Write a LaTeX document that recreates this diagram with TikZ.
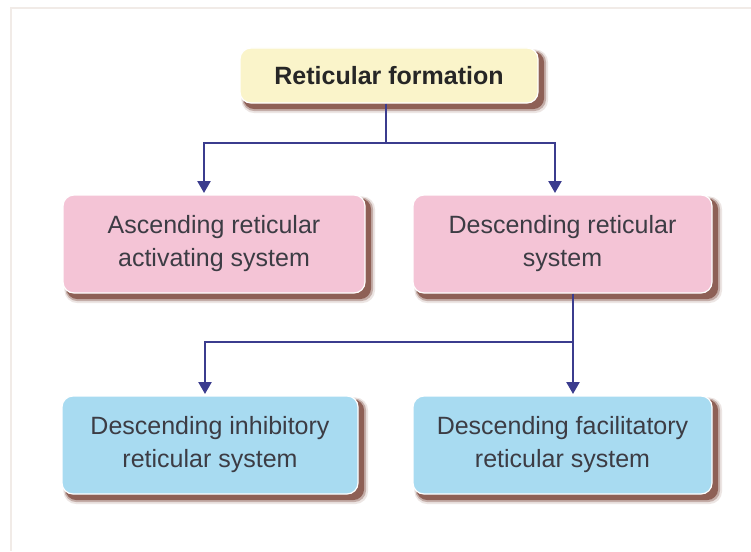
\documentclass[tikz,border=0pt]{standalone}
\usepackage{fontspec}
\setmainfont{Liberation Sans}
\usetikzlibrary{backgrounds,calc,arrows.meta}
\definecolor{yel}{HTML}{FAF4CA}
\definecolor{pnk}{HTML}{F4C4D6}
\definecolor{blu}{HTML}{A8DBF1}
\definecolor{navy}{HTML}{3B3C8E}
\definecolor{txt}{HTML}{3C3C44}
\definecolor{shc}{HTML}{6A2E20}
\definecolor{framec}{HTML}{F1EBE7}
\newcommand\boxshadow[1]{%
  \fill[shc, opacity=0.12, rounded corners=13pt] ($(#1.north west)+(2,2)$) rectangle ($(#1.south east)+(9.5,9.5)$);
  \fill[shc, opacity=0.3, rounded corners=12pt] ($(#1.north west)+(3,3)$) rectangle ($(#1.south east)+(7.5,7.5)$);
  \fill[shc, opacity=0.6, rounded corners=11pt] ($(#1.north west)+(4,4)$) rectangle ($(#1.south east)+(5.5,5.5)$);
}
\begin{document}
\begin{tikzpicture}[x=1pt,y=-1pt,
  box/.style={rounded corners=11pt, draw=white, line width=1.2pt, align=center,
    text=txt, font=\fontsize{25}{33}\selectfont, inner sep=0pt},
  conn/.style={draw=navy, line width=2.4pt},
  arr/.style={conn, -{Triangle[length=12pt,width=13pt]}}]
\useasboundingbox (0,0) rectangle (751,551);

\node[box, fill=yel, minimum width=298pt, minimum height=55pt,
  font=\fontsize{25}{33}\selectfont\bfseries, text=black!85] (rf) at (389,75.5) {Reticular formation};
\node[box, fill=pnk, minimum width=302pt, minimum height=98pt] (ars) at (214,244)
  {Ascending reticular\\activating system};
\node[box, fill=pnk, minimum width=299pt, minimum height=98pt] (drs) at (562.5,244)
  {Descending reticular\\system};
\node[box, fill=blu, minimum width=296pt, minimum height=98pt] (dir) at (210,445)
  {Descending inhibitory\\reticular system};
\node[box, fill=blu, minimum width=299pt, minimum height=98pt] (dfr) at (562.5,445)
  {Descending facilitatory\\reticular system};

\coordinate (j1) at (386,143);
\coordinate (t1) at (204,193);
\coordinate (t2) at (555,193);
\draw[conn] (rf.south -| j1) -- (j1);
\draw[arr] (j1) -| (t1);
\draw[arr] (j1) -| (t2);

\coordinate (j2) at (573,342);
\coordinate (t3) at (205,394);
\coordinate (t4) at (573,394);
\draw[conn] (drs.south -| j2) -- (j2);
\draw[arr] (j2) -| (t3);
\draw[arr] (j2) -- (t4);

\begin{scope}[on background layer]
  \fill[white] (0,0) rectangle (751,551);
  \draw[framec, line width=1.3pt] (11,551) -- (11,8) -- (751,8);
  \boxshadow{rf}
  \boxshadow{ars}
  \boxshadow{drs}
  \boxshadow{dir}
  \boxshadow{dfr}
\end{scope}
\end{tikzpicture}
\end{document}
